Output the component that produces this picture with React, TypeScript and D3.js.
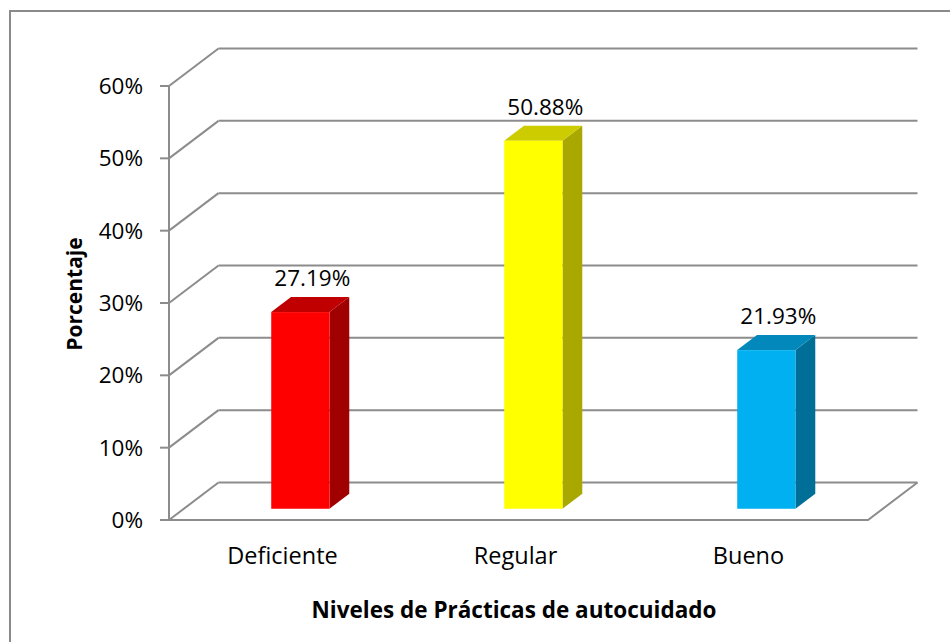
import React from 'react';
import * as d3 from 'd3';

const categories = ['Deficiente', 'Regular', 'Bueno'];
const values = [27.19, 50.88, 21.93];
const yTicks = [0, 10, 20, 30, 40, 50, 60];
const frontColors = ['#FF0000', '#FFFF00', '#00B0F0'];
const topColors = ['#C00000', '#CCCC00', '#0388BC'];
const sideColors = ['#A00000', '#A8A800', '#006F98'];

const W = 950;
const H = 642;
// oblique depth of the 3D box
const DX = 49.5;
const DY = -37.5;
const FONT = "'Open Sans', 'Liberation Sans', sans-serif";
const GRID = '#8c8c8c';

export default function App() {
  const x = d3.scaleBand<string>().domain(categories).range([169, 868]);
  const y = d3.scaleLinear().domain([0, 60]).range([520, 86]);
  const fmt = (v: number) => `${v.toFixed(2)}%`;

  const barW = x.bandwidth() * 0.25;
  const d0 = 0.3; // bar front depth fraction
  const d1 = 0.7;

  return (
    <>
      <style>{`body{margin:0}`}</style>
      <svg width={W} height={H} style={{ display: 'block', fontFamily: FONT }}>
        <rect x={0} y={0} width={W} height={H} fill="#fff" />
        <path d={`M10,${H + 5}V11H${W + 5}`} fill="none" stroke="#8a8a8a" strokeWidth={2} />

        {/* back wall gridlines and left wall diagonals */}
        {yTicks.map((t) => (
          <g key={t}>
            <line x1={169} x2={169 + DX} y1={y(t)} y2={y(t) + DY} stroke={GRID} strokeWidth={2} />
            <line x1={169 + DX} x2={868 + DX} y1={y(t) + DY} y2={y(t) + DY} stroke={GRID} strokeWidth={2} />
            <line x1={160} x2={169} y1={y(t)} y2={y(t)} stroke={GRID} strokeWidth={2} />
            <text x={143} y={y(t)} dy="0.36em" textAnchor="end" fontSize={22.5} fill="#000">
              {t}%
            </text>
          </g>
        ))}
        {/* floor */}
        <path
          d={`M169,${y(0)}H868L${868 + DX},${y(0) + DY}`}
          fill="none"
          stroke={GRID}
          strokeWidth={2}
        />
        <line x1={169} x2={169} y1={y(60)} y2={y(0)} stroke={GRID} strokeWidth={2} />

        {/* bars */}
        {categories.map((c, i) => {
          const cx = (x(c) ?? 0) + x.bandwidth() / 2;
          const fx0 = cx - barW / 2 + d0 * DX;
          const fx1 = fx0 + barW;
          const fb = y(0) + d0 * DY;
          const ft = fb - (y(0) - y(values[i]));
          const ddx = (d1 - d0) * DX;
          const ddy = (d1 - d0) * DY;
          return (
            <g key={c}>
              <path
                d={`M${fx1},${fb}L${fx1 + ddx},${fb + ddy}L${fx1 + ddx},${ft + ddy}L${fx1},${ft}Z`}
                fill={sideColors[i]}
              />
              <path
                d={`M${fx0},${ft}L${fx1},${ft}L${fx1 + ddx},${ft + ddy}L${fx0 + ddx},${ft + ddy}Z`}
                fill={topColors[i]}
              />
              <rect x={fx0} y={ft} width={barW} height={fb - ft} fill={frontColors[i]} />
              <text x={cx + d0 * DX + 12} y={ft - 26} textAnchor="middle" fontSize={22.5} fill="#000">
                {fmt(values[i])}
              </text>
              <text x={cx - 3} y={564} textAnchor="middle" fontSize={23.5} fill="#000">
                {c}
              </text>
            </g>
          );
        })}

        <text x={514} y={618} textAnchor="middle" fontSize={22.5} fontWeight="bold" fill="#000">
          Niveles de Prácticas de autocuidado
        </text>
        <text
          transform="translate(82,294) rotate(-90)"
          textAnchor="middle"
          fontSize={21}
          fontWeight="bold"
          fill="#000"
        >
          Porcentaje
        </text>
      </svg>
    </>
  );
}
